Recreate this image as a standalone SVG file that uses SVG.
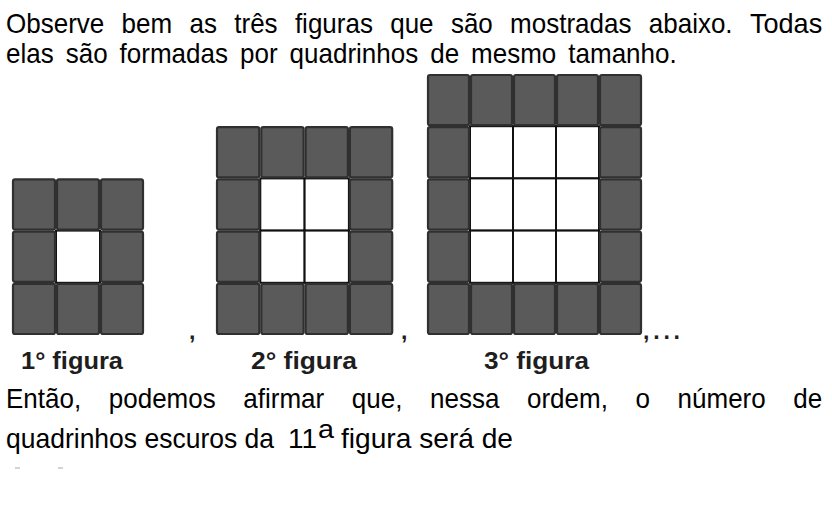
<svg xmlns="http://www.w3.org/2000/svg" width="832" height="506" viewBox="0 0 832 506">
<style>
.t{font-family:"Liberation Sans",Arial,sans-serif;font-size:28px;fill:#000}
.lbl{font-family:"Liberation Sans",Arial,sans-serif;font-size:23px;font-weight:bold;fill:#1e1e1e}
.d{fill:#5a5a5a;stroke:#303030;stroke-width:2.2}
.w{fill:#fff;stroke:#111;stroke-width:2}
</style>
<rect width="832" height="506" fill="#fff"/>
<g id="text-top">
<text class="t" x="6" y="33" textLength="98.3" lengthAdjust="spacingAndGlyphs">Observe</text>
<text class="t" x="121.6" y="33" textLength="50.6" lengthAdjust="spacingAndGlyphs">bem</text>
<text class="t" x="189.5" y="33" textLength="27.5" lengthAdjust="spacingAndGlyphs">as</text>
<text class="t" x="234.3" y="33" textLength="43.3" lengthAdjust="spacingAndGlyphs">três</text>
<text class="t" x="294.9" y="33" textLength="78" lengthAdjust="spacingAndGlyphs">figuras</text>
<text class="t" x="390.2" y="33" textLength="43.4" lengthAdjust="spacingAndGlyphs">que</text>
<text class="t" x="450.9" y="33" textLength="41.9" lengthAdjust="spacingAndGlyphs">são</text>
<text class="t" x="510.1" y="33" textLength="121.4" lengthAdjust="spacingAndGlyphs">mostradas</text>
<text class="t" x="648.8" y="33" textLength="83.8" lengthAdjust="spacingAndGlyphs">abaixo.</text>
<text class="t" x="749.9" y="33" textLength="72.3" lengthAdjust="spacingAndGlyphs">Todas</text>
<text class="t" x="6" y="63" textLength="47.7" lengthAdjust="spacingAndGlyphs">elas</text>
<text class="t" x="65.7" y="63" textLength="41.9" lengthAdjust="spacingAndGlyphs">são</text>
<text class="t" x="119.6" y="63" textLength="108.4" lengthAdjust="spacingAndGlyphs">formadas</text>
<text class="t" x="240" y="63" textLength="37.6" lengthAdjust="spacingAndGlyphs">por</text>
<text class="t" x="289.6" y="63" textLength="128.6" lengthAdjust="spacingAndGlyphs">quadrinhos</text>
<text class="t" x="430.2" y="63" textLength="28.9" lengthAdjust="spacingAndGlyphs">de</text>
<text class="t" x="471.1" y="63" textLength="85.2" lengthAdjust="spacingAndGlyphs">mesmo</text>
<text class="t" x="568.3" y="63" textLength="108.4" lengthAdjust="spacingAndGlyphs">tamanho.</text>
</g>
<g id="figura-1">
<rect class="w" x="56" y="230.6" width="44" height="52.2"/>
<rect class="d" x="13" y="179.4" width="42" height="50.2" rx="2"/>
<rect class="d" x="57" y="179.4" width="42" height="50.2" rx="2"/>
<rect class="d" x="101" y="179.4" width="42" height="50.2" rx="2"/>
<rect class="d" x="13" y="231.6" width="42" height="50.2" rx="2"/>
<rect class="d" x="101" y="231.6" width="42" height="50.2" rx="2"/>
<rect class="d" x="13" y="283.8" width="42" height="50.2" rx="2"/>
<rect class="d" x="57" y="283.8" width="42" height="50.2" rx="2"/>
<rect class="d" x="101" y="283.8" width="42" height="50.2" rx="2"/>
<text class="lbl" x="21" y="369" textLength="102" lengthAdjust="spacingAndGlyphs">1° figura</text>
</g>
<g id="figura-2">
<rect class="w" x="260.3" y="178.4" width="44.3" height="52.2"/>
<rect class="w" x="304.6" y="178.4" width="44.3" height="52.2"/>
<rect class="w" x="260.3" y="230.6" width="44.3" height="52.2"/>
<rect class="w" x="304.6" y="230.6" width="44.3" height="52.2"/>
<rect class="d" x="217" y="127.2" width="42.3" height="50.2" rx="2"/>
<rect class="d" x="261.3" y="127.2" width="42.3" height="50.2" rx="2"/>
<rect class="d" x="305.6" y="127.2" width="42.3" height="50.2" rx="2"/>
<rect class="d" x="349.9" y="127.2" width="42.3" height="50.2" rx="2"/>
<rect class="d" x="217" y="179.4" width="42.3" height="50.2" rx="2"/>
<rect class="d" x="349.9" y="179.4" width="42.3" height="50.2" rx="2"/>
<rect class="d" x="217" y="231.6" width="42.3" height="50.2" rx="2"/>
<rect class="d" x="349.9" y="231.6" width="42.3" height="50.2" rx="2"/>
<rect class="d" x="217" y="283.8" width="42.3" height="50.2" rx="2"/>
<rect class="d" x="261.3" y="283.8" width="42.3" height="50.2" rx="2"/>
<rect class="d" x="305.6" y="283.8" width="42.3" height="50.2" rx="2"/>
<rect class="d" x="349.9" y="283.8" width="42.3" height="50.2" rx="2"/>
<text class="lbl" x="251" y="369" textLength="106" lengthAdjust="spacingAndGlyphs">2° figura</text>
</g>
<g id="figura-3">
<rect class="w" x="470" y="126.2" width="43" height="52.2"/>
<rect class="w" x="513" y="126.2" width="43" height="52.2"/>
<rect class="w" x="556" y="126.2" width="43" height="52.2"/>
<rect class="w" x="470" y="178.4" width="43" height="52.2"/>
<rect class="w" x="513" y="178.4" width="43" height="52.2"/>
<rect class="w" x="556" y="178.4" width="43" height="52.2"/>
<rect class="w" x="470" y="230.6" width="43" height="52.2"/>
<rect class="w" x="513" y="230.6" width="43" height="52.2"/>
<rect class="w" x="556" y="230.6" width="43" height="52.2"/>
<rect class="d" x="428" y="75" width="41" height="50.2" rx="2"/>
<rect class="d" x="471" y="75" width="41" height="50.2" rx="2"/>
<rect class="d" x="514" y="75" width="41" height="50.2" rx="2"/>
<rect class="d" x="557" y="75" width="41" height="50.2" rx="2"/>
<rect class="d" x="600" y="75" width="41" height="50.2" rx="2"/>
<rect class="d" x="428" y="127.2" width="41" height="50.2" rx="2"/>
<rect class="d" x="600" y="127.2" width="41" height="50.2" rx="2"/>
<rect class="d" x="428" y="179.4" width="41" height="50.2" rx="2"/>
<rect class="d" x="600" y="179.4" width="41" height="50.2" rx="2"/>
<rect class="d" x="428" y="231.6" width="41" height="50.2" rx="2"/>
<rect class="d" x="600" y="231.6" width="41" height="50.2" rx="2"/>
<rect class="d" x="428" y="283.8" width="41" height="50.2" rx="2"/>
<rect class="d" x="471" y="283.8" width="41" height="50.2" rx="2"/>
<rect class="d" x="514" y="283.8" width="41" height="50.2" rx="2"/>
<rect class="d" x="557" y="283.8" width="41" height="50.2" rx="2"/>
<rect class="d" x="600" y="283.8" width="41" height="50.2" rx="2"/>
<text class="lbl" x="484" y="369" textLength="105" lengthAdjust="spacingAndGlyphs">3° figura</text>
</g>
<g id="separators">
<text class="lbl" x="189" y="339">,</text>
<text class="lbl" x="401" y="339">,</text>
<text class="lbl" x="643" y="339" textLength="37" lengthAdjust="spacing">,...</text>
</g>
<g id="text-bottom">
<text class="t" x="6" y="408" textLength="75.2" lengthAdjust="spacingAndGlyphs">Então,</text>
<text class="t" x="108.8" y="408" textLength="106.9" lengthAdjust="spacingAndGlyphs">podemos</text>
<text class="t" x="243.3" y="408" textLength="80.9" lengthAdjust="spacingAndGlyphs">afirmar</text>
<text class="t" x="351.8" y="408" textLength="50.6" lengthAdjust="spacingAndGlyphs">que,</text>
<text class="t" x="430" y="408" textLength="69.4" lengthAdjust="spacingAndGlyphs">nessa</text>
<text class="t" x="527" y="408" textLength="80.9" lengthAdjust="spacingAndGlyphs">ordem,</text>
<text class="t" x="635.5" y="408" textLength="14.5" lengthAdjust="spacingAndGlyphs">o</text>
<text class="t" x="677.6" y="408" textLength="88.1" lengthAdjust="spacingAndGlyphs">número</text>
<text class="t" x="793.3" y="408" textLength="28.9" lengthAdjust="spacingAndGlyphs">de</text>
<text class="t" x="6" y="448" textLength="268" lengthAdjust="spacingAndGlyphs">quadrinhos escuros da</text>
<text class="t" x="288" y="448" textLength="29" lengthAdjust="spacingAndGlyphs">11</text>
<text class="t" x="318" y="438" textLength="16" lengthAdjust="spacingAndGlyphs" style="font-size:26px">a</text>
<text class="t" x="341" y="448" textLength="172" lengthAdjust="spacingAndGlyphs">figura será de</text>
</g>
<rect x="15" y="467" width="5" height="2" fill="#d4d4d4"/>
<rect x="58" y="467" width="5" height="2" fill="#d4d4d4"/>
</svg>
